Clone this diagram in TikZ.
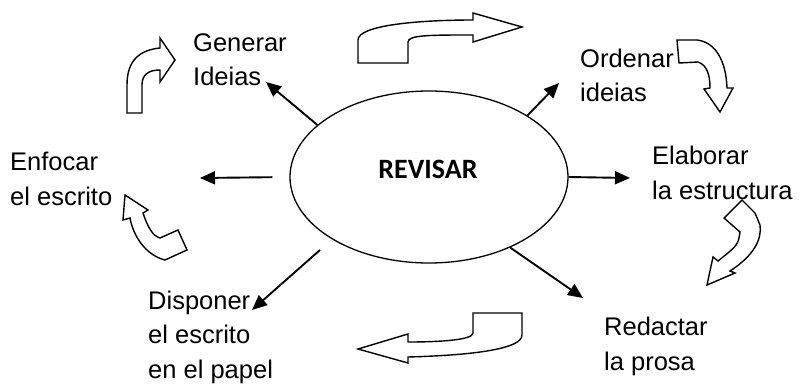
\documentclass[tikz,border=0pt]{standalone}
\usepackage{fontspec}
\setmainfont{Liberation Sans}
\newfontfamily\revfont{Carlito}
\usetikzlibrary{shapes.geometric,arrows.meta}
\begin{document}
\begin{tikzpicture}[
   x=1pt,y=-1pt,
   lbl/.style={anchor=base west,align=left,inner sep=0pt,font=\fontsize{25.5}{34.5}\selectfont},
   ray/.style={-{Triangle[length=15pt,width=13pt]},line width=1.9pt},
   blk/.style={draw,fill=white,line width=1.4pt,line join=miter}]
\useasboundingbox (0,0) rectangle (800,385);
% centre
\node[ellipse,draw,line width=1.3pt,minimum width=278pt,minimum height=172pt,inner sep=0pt] (rev) at (429,177) {};
\node[font=\revfont\bfseries\fontsize{28}{30}\selectfont] (revt) at (428,169) {REVISAR};
% labels (base = last line)
\node[lbl] (gen) at (193,86) {Generar\\Ideias};
\node[lbl] (ord) at (580,102) {Ordenar\\ideias};
\node[lbl] (enf) at (10,205) {Enfocar\\el escrito};
\node[lbl] (ela) at (652,199) {Elaborar\\la estructura};
\node[lbl] (red) at (604,370) {Redactar\\la prosa};
\node[lbl] (dis) at (148,378) {Disponer\\el escrito\\en el papel};
% arrow ends
\coordinate (gen-p) at (266,82);
\coordinate (ord-p) at (559,83);
\coordinate (enf-p) at (200,178);
\coordinate (ela-p) at (630,178);
\coordinate (red-p) at (583,298);
\coordinate (dis-q) at (320,250);
\coordinate (dis-p) at (252,310);
\draw[ray] (rev.155.5) -- (gen-p);
\draw[ray] (rev.32.4) -- (ord-p);
\draw[ray,shorten <=17pt] (rev.west) -- (enf-p);
\draw[ray] (rev.east) -- (ela-p);
\draw[ray] (rev.-41.3) -- (red-p);
\draw[ray] (dis-q) -- (dis-p);
% block arrows
\draw[blk] (127,113) -- (127,85) .. controls (127,60) and (140,50) .. (160,48) -- (160,38) -- (175,60) -- (160,82) -- (160,70) .. controls (148,70) and (142,75) .. (142,85) -- (142,113) -- cycle;
\draw[blk] (358,63) -- (358,40) .. controls (358,25) and (420,20) .. (473,20) -- (473,13) -- (522,27) -- (473,42) -- (473,35) .. controls (430,35) and (408,35) .. (408,42) -- (408,63) -- cycle;
\draw[blk] (677,40) -- (679,63) -- (698,62) .. controls (707,65) and (710,75) .. (710,88) -- (704,89) -- (720,112) -- (733,88) -- (727,88) .. controls (726,60) and (715,42) .. (697,40) -- cycle;
\draw[blk] (742,200) -- (724,218) -- (740,232) .. controls (738,245) .. (718,261) -- (713,257) -- (707,285) -- (735,273) -- (730,271) .. controls (755,255) and (762,238) .. (760,225) -- (755,213) -- cycle;
\draw[blk] (522,313) -- (473,313) -- (473,333) .. controls (473,340) and (440,342) .. (408,342) -- (408,334) -- (358,349) -- (408,363) -- (408,357) .. controls (480,355) and (522,348) .. (522,335) -- cycle;
\draw[blk] (125,195) -- (148,210) -- (143,213) .. controls (148,228) and (153,236) .. (160,238) -- (178,230) -- (187,250) -- (165,260) .. controls (145,255) and (133,235) .. (130,218) -- (123,220) -- cycle;
\end{tikzpicture}
\end{document}
